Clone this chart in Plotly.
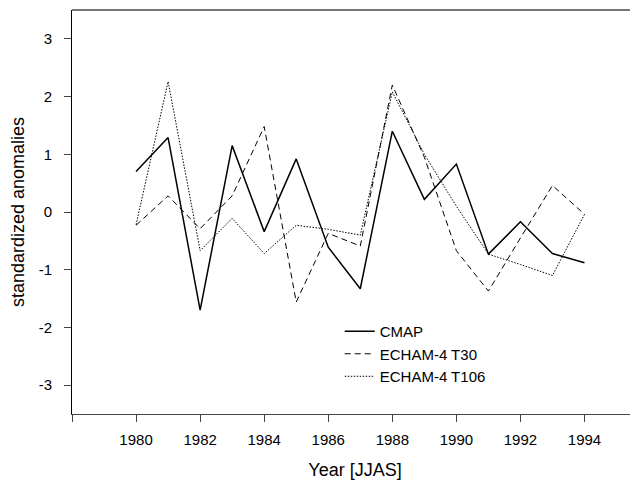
import plotly.graph_objects as go

years = list(range(1980, 1995))
cmap = [0.70, 1.29, -1.70, 1.15, -0.34, 0.92, -0.61, -1.33, 1.40, 0.22, 0.83, -0.73, -0.17, -0.72, -0.88]
t30 = [-0.23, 0.28, -0.29, 0.28, 1.48, -1.56, -0.37, -0.59, 2.20, 0.95, -0.67, -1.37, -0.45, 0.46, -0.04]
t106 = [-0.22, 2.26, -0.67, -0.11, -0.72, -0.23, -0.30, -0.40, 2.08, 1.00, 0.10, -0.73, -0.91, -1.10, -0.04]

xtick_vals = [1978, 1980, 1982, 1984, 1986, 1988, 1990, 1992, 1994]
xtick_text = ["", "1980", "1982", "1984", "1986", "1988", "1990", "1992", "1994"]
ytick_vals = [-3, -2, -1, 0, 1, 2, 3]
ytick_text = ["-3", "-2", "-1", "0", "1", "2", "3"]

FONT = "Liberation Sans, Arial, sans-serif"

fig = go.Figure()
fig.add_trace(go.Scatter(x=years, y=cmap, mode="lines", name="CMAP",
                         line=dict(color="black", width=1.5)))
fig.add_trace(go.Scatter(x=years, y=t30, mode="lines", name="ECHAM-4 T30",
                         line=dict(color="black", width=1, dash="6px,4px")))
fig.add_trace(go.Scatter(x=years, y=t106, mode="lines", name="ECHAM-4 T106",
                         line=dict(color="black", width=1, dash="1.5px,1.5px")))

# page body has an 8px margin: figure is sized/offset to compensate
fig.update_layout(
    width=630, height=472,
    margin=dict(l=64, r=0, t=2, b=66),
    paper_bgcolor="white", plot_bgcolor="white",
    font=dict(family=FONT, size=15, color="black"),
    showlegend=True,
    legend=dict(x=0.473, y=0.245, xanchor="left", yanchor="top",
                bgcolor="rgba(0,0,0,0)", font=dict(size=15), tracegroupgap=0),
    xaxis=dict(range=[1978, 1995.67], tickmode="array", tickvals=xtick_vals, ticktext=xtick_text,
               showgrid=False, zeroline=False, showline=True, linecolor="#444", linewidth=1,
               ticks="outside", ticklen=7, tickcolor="#444", automargin=False,
               ticklabelstandoff=5, tickfont=dict(size=15),
               title=dict(text="Year [JJAS]", font=dict(size=18), standoff=16)),
    yaxis=dict(range=[-3.5, 3.5], tickmode="array", tickvals=ytick_vals, ticktext=ytick_text,
               showgrid=False, zeroline=False, showline=True, linecolor="black", linewidth=1,
               ticks="outside", ticklen=7, tickcolor="#444", automargin=False,
               ticklabelstandoff=9, tickfont=dict(size=15),
               title=dict(text="standardized anomalies", font=dict(size=18), standoff=10)),
)
fig.add_shape(type="line", xref="paper", yref="paper", x0=0, x1=1, y0=1, y1=1,
              line=dict(color="#777", width=2))

fig.write_html("out.html")
